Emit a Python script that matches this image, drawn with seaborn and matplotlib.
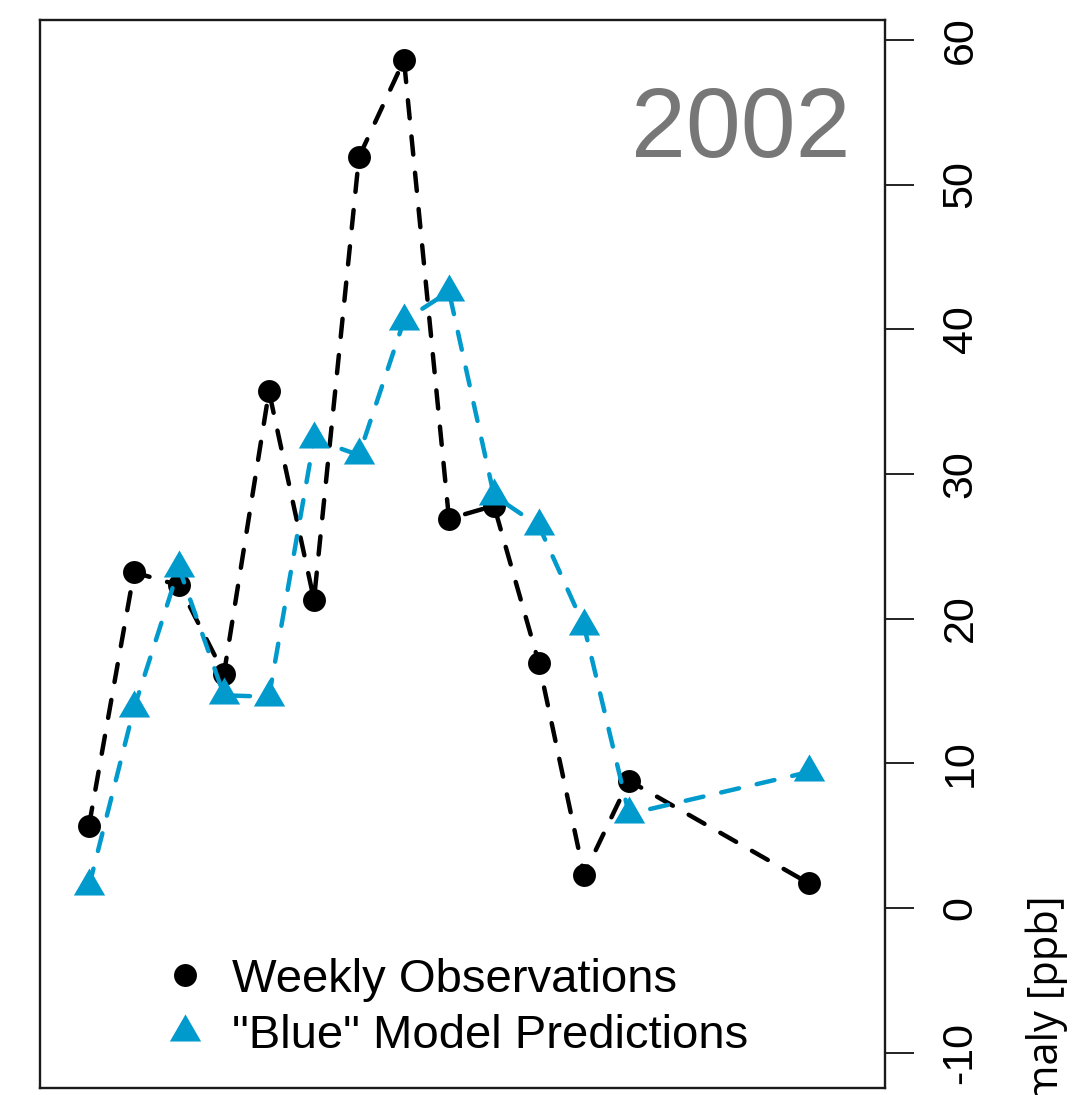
import matplotlib
matplotlib.use("Agg")
import matplotlib.pyplot as plt
import seaborn as sns
import numpy as np
from matplotlib.lines import Line2D

# ---- data ----
weeks = [0, 1, 2, 3, 4, 5, 6, 7, 8, 9, 10, 11, 12, 16]
observations = [5.7, 23.2, 22.3, 16.2, 35.7, 21.3, 51.9, 58.6, 26.9, 27.8, 16.9, 2.3, 8.8, 1.7]
model_blue = [1.5, 13.8, 23.5, 14.7, 14.6, 32.4, 31.3, 40.6, 42.6, 28.5, 26.4, 19.5, 6.5, 9.4]
yticks = [-10, 0, 10, 20, 30, 40, 50, 60]
year_label = "2002"
legend_labels = ["Weekly Observations", '"Blue" Model Predictions']
ylabel = "Anomaly [ppb]"

BLUE = "#009ACD"
W, H = 1076, 1095

sns.set_style("white")
plt.rcParams["font.family"] = ["Liberation Sans", "DejaVu Sans"]
plt.rcParams["text.color"] = "black"

fig = plt.figure(figsize=(W / 100, H / 100), dpi=100)
ax = fig.add_axes([40 / W, 1 - 1088 / H, (885 - 40) / W, (1088 - 20) / H])

# R-style equilateral triangle (pch 17), centred on centroid
tri = [(0, 1), (-0.866, -0.5), (0.866, -0.5), (0, 1)]

sns.lineplot(x=weeks, y=observations, ax=ax, color="black", lw=3.2,
             linestyle="--", marker="o", markersize=16.5,
             markeredgewidth=0, markerfacecolor="black", zorder=3)
sns.lineplot(x=weeks, y=model_blue, ax=ax, color=BLUE, lw=3.2,
             linestyle="--", marker=tri, markersize=26,
             markeredgewidth=0, markerfacecolor=BLUE, zorder=4)
for ln in ax.lines:
    ln.set_dashes((4.1, 4.1))
    ln.set_dash_capstyle("round")

ax.set_xlim(-1.089, 17.69)
ax.set_ylim(-12.44, 61.37)

ax.set_xticks([])
ax.yaxis.tick_right()
ax.set_yticks(yticks)
ax.set_yticklabels([str(t) for t in yticks])
ax.tick_params(axis="y", which="major", right=True, left=False, direction="out",
               length=21, width=1.4, color="#222222", labelsize=31,
               labelrotation=90, pad=19, labelcolor="black")
for lab in ax.get_yticklabels():
    lab.set_va("center")
for sp in ax.spines.values():
    sp.set_visible(True)
    sp.set_color("#1a1a1a")
    sp.set_linewidth(1.7)
ax.set_xlabel("")
ax.set_ylabel("")

fig.text(850 / W, 1 - 157 / H, year_label,
         ha="right", va="baseline", fontsize=71, color="#777777")

handles = [
    Line2D([], [], linestyle="none", marker="o", markersize=16.5,
           markerfacecolor="black", markeredgewidth=0, color="black"),
    Line2D([], [], linestyle="none", marker=tri, markersize=26,
           markerfacecolor=BLUE, markeredgewidth=0, color=BLUE),
]
leg = ax.legend(handles, legend_labels, loc="upper left",
                bbox_to_anchor=((161 - 40) / (885 - 40), (1088 - 958) / (1088 - 20)),
                frameon=False, fontsize=34, handlelength=1.0, handletextpad=0.5,
                labelspacing=0.26, borderpad=0, borderaxespad=0)
for t in leg.get_texts():
    t.set_color("black")

fig.text(1047 / W, 1 - 895 / H, ylabel, rotation=90, ha="center", va="top",
         fontsize=30, family=["Open Sans", "DejaVu Sans"], color="black")

fig.savefig("out.png", dpi=100)
